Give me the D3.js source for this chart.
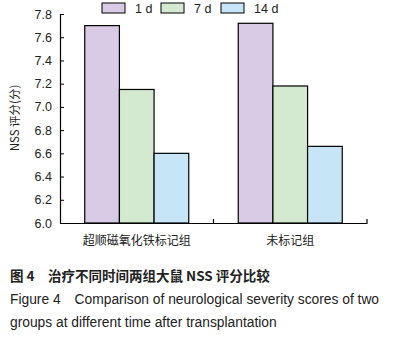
<!DOCTYPE html>
<html>
<head>
<meta charset="utf-8">
<script src="https://cdn.jsdelivr.net/npm/d3@7"></script>
<style>
  body { margin: 0; background: #fff; }
  svg { display: block; font-family: "Liberation Sans", Arial, sans-serif; }
</style>
</head>
<body>
<div id="chart"></div>
<script>
// data
var groups = ["超顺磁氧化铁标记组", "未标记组"];
var series = ["1 d", "7 d", "14 d"];
var values1d = [7.70, 7.72];
var values7d = [7.15, 7.18];
var values14d = [6.60, 6.66];
var yTicks = [6.0, 6.2, 6.4, 6.6, 6.8, 7.0, 7.2, 7.4, 7.6, 7.8];
var colors = ["#d9cbe6", "#d3ead0", "#c6e6f8"];

var svg = d3.select("#chart").append("svg")
  .attr("width", 394).attr("height", 344);

var x0 = d3.scaleBand().domain(groups).range([60, 367]).paddingInner(0).paddingOuter(0);
var x1 = d3.scaleBand().domain(series).range([0, 104]);
var y = d3.scaleLinear().domain([6.0, 7.8]).range([223, 14]);

var table = groups.map(function (g, i) {
  return { group: g, vals: [values1d[i], values7d[i], values14d[i]] };
});

// bars
var g = svg.selectAll(".grp").data(table).enter().append("g")
  .attr("transform", function (d) {
    return "translate(" + (x0(d.group) + (x0.bandwidth() - 104) / 2) + ",0)";
  });
g.selectAll("rect").data(function (d) {
    return d.vals.map(function (v, j) { return { s: series[j], v: v, c: colors[j] }; });
  })
  .enter().append("rect")
  .attr("x", function (d) { return x1(d.s); })
  .attr("y", function (d) { return y(d.v); })
  .attr("width", x1.bandwidth())
  .attr("height", function (d) { return y(6.0) - y(d.v); })
  .attr("fill", function (d) { return d.c; })
  .attr("stroke", "#000").attr("stroke-width", 1.2);

// y axis
var yAxis = svg.append("g").attr("transform", "translate(60,0)")
  .call(d3.axisLeft(y).tickValues(yTicks).tickFormat(d3.format(".1f")).tickSizeInner(-4).tickSizeOuter(0).tickPadding(8));
yAxis.select(".domain").attr("stroke", "#000").attr("stroke-width", 1.2);
yAxis.selectAll("text").attr("font-size", 12.5).attr("fill", "#222");

// x axis
var xAxis = svg.append("g").attr("transform", "translate(0,223)")
  .call(d3.axisBottom(x0).tickSize(0).tickPadding(13));
xAxis.select(".domain").attr("stroke", "#000").attr("stroke-width", 1.2);
xAxis.selectAll("text").attr("font-size", 12).attr("fill", "#222")
  .attr("font-family", "'Noto Sans CJK SC', sans-serif");
// group separator ticks
svg.selectAll(".sep").data(groups).enter().append("line")
  .attr("x1", function (d) { return x0(d) + x0.bandwidth(); })
  .attr("x2", function (d) { return x0(d) + x0.bandwidth(); })
  .attr("y1", 223).attr("y2", 219)
  .attr("stroke", "#000").attr("stroke-width", 1.2);

// y label
svg.append("text")
  .attr("transform", "translate(19,118) rotate(-90)")
  .attr("text-anchor", "middle")
  .attr("font-size", 11.5).attr("fill", "#222")
  .attr("font-family", "'Noto Sans CJK SC', sans-serif")
  .text("NSS 评分(分)");

// legend
var legX = [102, 161, 221];
var leg = svg.selectAll(".leg").data(series).enter().append("g")
  .attr("transform", function (d, i) { return "translate(" + legX[i] + ",3)"; });
leg.append("rect").attr("width", 23).attr("height", 10)
  .attr("fill", function (d, i) { return colors[i]; })
  .attr("stroke", "#000").attr("stroke-width", 1);
leg.append("text").attr("x", 33).attr("y", 10)
  .attr("font-size", 12.5).attr("fill", "#222").text(function (d) { return d; });

// caption
svg.append("text").attr("x", 10).attr("y", 281)
  .attr("font-size", 13.5).attr("font-weight", "bold").attr("fill", "#222")
  .attr("font-family", "'Noto Sans CJK SC', sans-serif")
  .text("图 4　治疗不同时间两组大鼠 NSS 评分比较");
svg.append("text").attr("x", 10).attr("y", 304)
  .attr("font-size", 13.8).attr("fill", "#222")
  .text("Figure 4　Comparison of neurological severity scores of two");
svg.append("text").attr("x", 10).attr("y", 327)
  .attr("font-size", 13.8).attr("fill", "#222")
  .text("groups at different time after transplantation");
</script>
</body>
</html>
